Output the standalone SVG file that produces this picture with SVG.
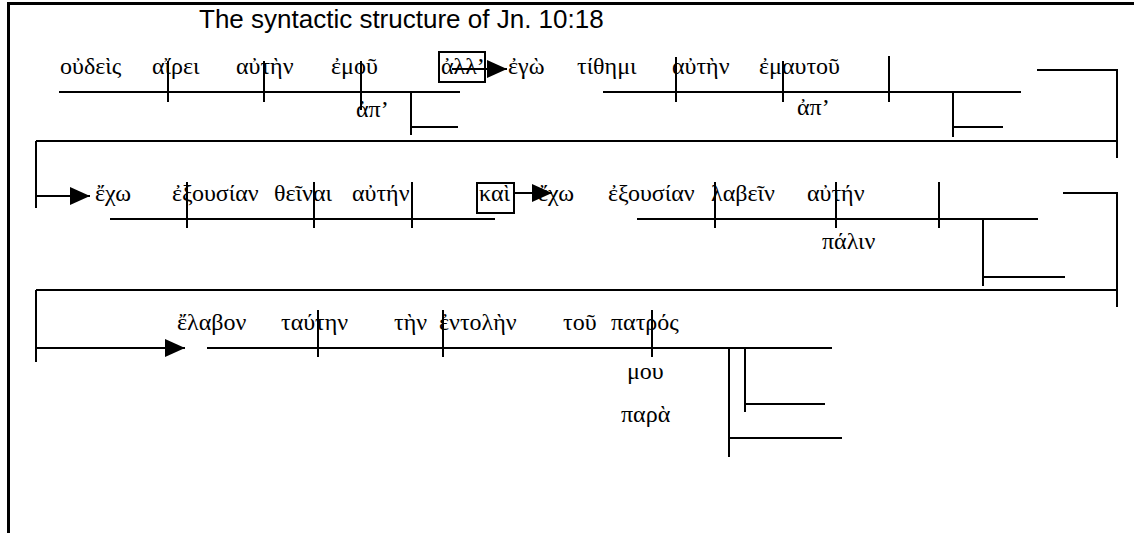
<svg xmlns="http://www.w3.org/2000/svg" width="1134" height="533" viewBox="0 0 1134 533">
<style>
.ln{stroke:#000;stroke-width:2;fill:none}
.bd{stroke:#000;stroke-width:3;fill:none}
.gk{font-family:"Liberation Serif","DejaVu Serif",serif;font-size:24px;fill:#000}
.tt{font-family:"Liberation Sans",Arial,sans-serif;font-size:26px;fill:#000}
.box{stroke:#000;stroke-width:2;fill:none}
</style>
<defs>
<marker id="ah" viewBox="0 0 20 18" refX="20" refY="9" markerWidth="20" markerHeight="18" markerUnits="userSpaceOnUse" orient="auto">
<path d="M0,0 L20,9 L0,18 Z" fill="#000"/>
</marker>
</defs>
<rect width="1134" height="533" fill="#fff"/>
<g id="frame">
<line class="bd" x1="8" y1="3.5" x2="1134" y2="3.5"/>
<line class="bd" x1="8.5" y1="2" x2="8.5" y2="533"/>
</g>
<g id="title"><text class="tt" x="199" y="28">The syntactic structure of Jn. 10:18</text></g>

<g id="clause1">
<line class="ln" x1="59" y1="92" x2="460" y2="92"/>
<line class="ln" x1="168" y1="61" x2="168" y2="102"/>
<line class="ln" x1="264" y1="61" x2="264" y2="102"/>
<line class="ln" x1="361" y1="61" x2="361" y2="110"/>
<text class="gk" x="60" y="74">οὐδεὶς</text>
<text class="gk" x="152" y="74">αἴρει</text>
<text class="gk" x="236" y="74">αὐτὴν</text>
<text class="gk" x="331" y="74">ἐμοῦ</text>
<text class="gk" x="356" y="117">ἀπ’</text>
<line class="ln" x1="411" y1="92" x2="411" y2="135"/>
<line class="ln" x1="411" y1="127" x2="458" y2="127"/>
</g>

<g id="conj-alla">
<rect class="box" x="439" y="52" width="46" height="30"/>
<text class="gk" x="441" y="74">ἀλλ’</text>
</g>

<g id="clause2">
<line class="ln" x1="603" y1="92" x2="1021" y2="92"/>
<line class="ln" x1="676" y1="57" x2="676" y2="102"/>
<line class="ln" x1="783" y1="61" x2="783" y2="102"/>
<line class="ln" x1="889" y1="56" x2="889" y2="102"/>
<text class="gk" x="508" y="74">ἐγὼ</text>
<text class="gk" x="577" y="74">τίθημι</text>
<text class="gk" x="672" y="74">αὐτὴν</text>
<text class="gk" x="759" y="74">ἐμαυτοῦ</text>
<text class="gk" x="797" y="115">ἀπ’</text>
<line class="ln" x1="953" y1="92" x2="953" y2="137"/>
<line class="ln" x1="953" y1="127" x2="1003" y2="127"/>
</g>

<g id="clause3">
<line class="ln" x1="110" y1="219" x2="495" y2="219"/>
<line class="ln" x1="187" y1="182" x2="187" y2="228"/>
<line class="ln" x1="314" y1="182" x2="314" y2="228"/>
<line class="ln" x1="412" y1="182" x2="412" y2="228"/>
<text class="gk" x="95" y="201">ἔχω</text>
<text class="gk" x="172" y="201">ἐξουσίαν</text>
<text class="gk" x="274" y="201">θεῖναι</text>
<text class="gk" x="352" y="201">αὐτήν</text>
</g>

<g id="conj-kai">
<rect class="box" x="477" y="183" width="37" height="30"/>
<text class="gk" x="479" y="201">καὶ</text>
</g>

<g id="clause4">
<line class="ln" x1="637" y1="219" x2="1038" y2="219"/>
<line class="ln" x1="715" y1="182" x2="715" y2="228"/>
<line class="ln" x1="836" y1="182" x2="836" y2="228"/>
<line class="ln" x1="939" y1="182" x2="939" y2="228"/>
<text class="gk" x="538" y="201">ἔχω</text>
<text class="gk" x="608" y="201">ἐξουσίαν</text>
<text class="gk" x="711" y="201">λαβεῖν</text>
<text class="gk" x="807" y="201">αὐτήν</text>
<text class="gk" x="822" y="249">πάλιν</text>
<line class="ln" x1="983" y1="219" x2="983" y2="286"/>
<line class="ln" x1="983" y1="277" x2="1065" y2="277"/>
</g>

<g id="clause5">
<line class="ln" x1="207" y1="348" x2="832" y2="348"/>
<line class="ln" x1="318" y1="310" x2="318" y2="357"/>
<line class="ln" x1="443" y1="310" x2="443" y2="357"/>
<line class="ln" x1="652" y1="310" x2="652" y2="357"/>
<text class="gk" x="177" y="330">ἔλαβον</text>
<text class="gk" x="281" y="330">ταύτην</text>
<text class="gk" x="394" y="330">τὴν</text>
<text class="gk" x="439" y="330">ἐντολὴν</text>
<text class="gk" x="563" y="330">τοῦ</text>
<text class="gk" x="611" y="330">πατρός</text>
<text class="gk" x="627" y="379">μου</text>
<text class="gk" x="621" y="422">παρὰ</text>
<line class="ln" x1="729" y1="348" x2="729" y2="457"/>
<line class="ln" x1="745" y1="348" x2="745" y2="412"/>
<line class="ln" x1="745" y1="404" x2="825" y2="404"/>
<line class="ln" x1="729" y1="438" x2="842" y2="438"/>
</g>

<g id="connectors">
<line class="ln" x1="452" y1="69" x2="507" y2="69" marker-end="url(#ah)"/>
<polyline class="ln" points="1037,70 1117,70 1117,158"/>
<line class="ln" x1="36" y1="141" x2="1117" y2="141"/>
<line class="ln" x1="36" y1="141" x2="36" y2="208"/>
<line class="ln" x1="36" y1="196" x2="90" y2="196" marker-end="url(#ah)"/>
<line class="ln" x1="514" y1="193" x2="552" y2="193" marker-end="url(#ah)"/>
<polyline class="ln" points="1063,193 1117,193 1117,307"/>
<line class="ln" x1="36" y1="290" x2="1117" y2="290"/>
<line class="ln" x1="36" y1="290" x2="36" y2="362"/>
<line class="ln" x1="36" y1="348" x2="185" y2="348" marker-end="url(#ah)"/>
</g>
</svg>
